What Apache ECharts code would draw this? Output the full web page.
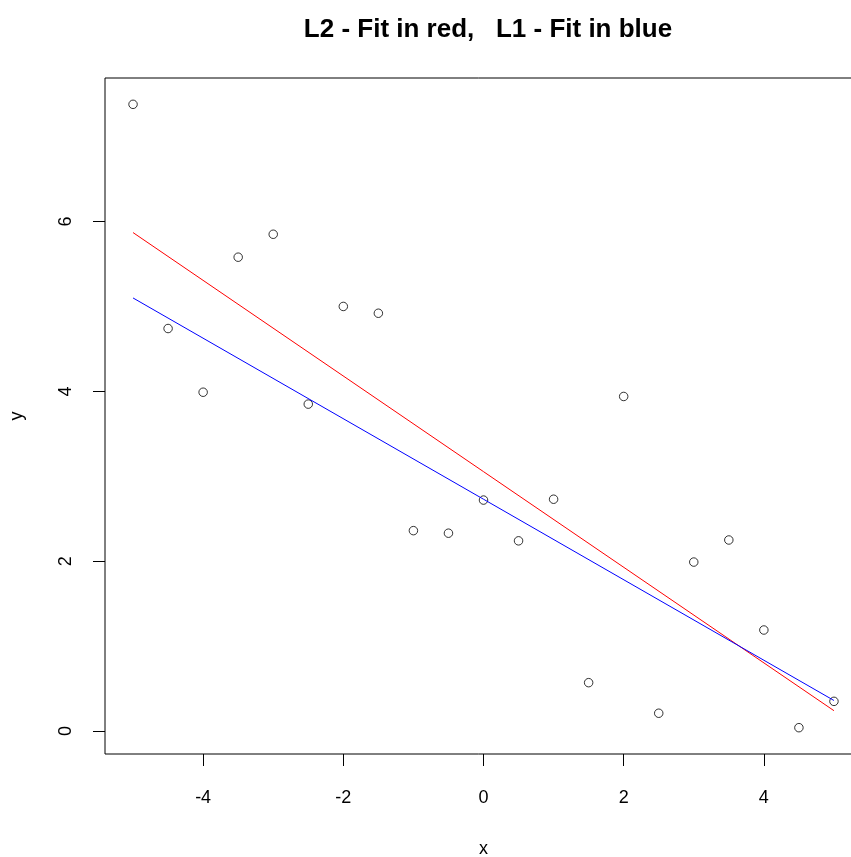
<!DOCTYPE html>
<html>
<head>
<meta charset="utf-8">
<script src="https://cdn.jsdelivr.net/npm/echarts@6/dist/echarts.min.js"></script>
<style>html,body{margin:0;padding:0;background:#fff;}#c{width:851px;height:857px;}</style>
</head>
<body>
<div id="c"></div>
<script>
const xValues = [-5, -4.5, -4, -3.5, -3, -2.5, -2, -1.5, -1, -0.5, 0, 0.5, 1, 1.5, 2, 2.5, 3, 3.5, 4, 4.5, 5];
const yValues = [7.38, 4.74, 3.99, 5.58, 5.85, 3.85, 5.00, 4.92, 2.36, 2.33, 2.72, 2.24, 2.73, 0.57, 3.94, 0.21, 1.99, 2.25, 1.19, 0.04, 0.35];
const l2FitX = [-5, 5];
const l2FitY = [5.87, 0.24];
const l1FitX = [-5, 5];
const l1FitY = [5.10, 0.36];
const xTicks = [-4, -2, 0, 2, 4];
const yTicks = [0, 2, 4, 6];

const font = 'Liberation Sans, Arial, sans-serif';
const chart = echarts.init(document.getElementById('c'), null, {renderer: 'canvas'});
chart.setOption({
  animation: false,
  backgroundColor: '#fff',
  title: {
    text: 'L2 - Fit in red,   L1 - Fit in blue',
    left: 483, top: 12, textAlign: 'center',
    textStyle: {fontFamily: font, fontSize: 26, fontWeight: 'bold', color: '#000'}
  },
  grid: {left: 105, top: 78, width: 757, bottom: 103, outerBoundsMode: 'none', containLabel: false,
         show: true, borderColor: '#000', borderWidth: 1, backgroundColor: 'transparent'},
  xAxis: {
    type: 'value', min: -5.4, max: 5.4,
    name: 'x', nameLocation: 'middle', nameGap: 86,
    nameTextStyle: {fontFamily: font, fontSize: 18, color: '#000'},
    axisLine: {show: false, onZero: false},
    splitLine: {show: false},
    axisTick: {show: true, inside: false, length: 12, customValues: xTicks, lineStyle: {color: '#000', width: 1}},
    axisLabel: {customValues: xTicks, margin: 35, fontFamily: font, fontSize: 18, color: '#000'}
  },
  yAxis: {
    type: 'value', min: -0.27, max: 7.69,
    name: 'y', nameLocation: 'middle', nameGap: 79, nameRotate: 90,
    nameTextStyle: {fontFamily: font, fontSize: 18, color: '#000'},
    axisLine: {show: false, onZero: false},
    splitLine: {show: false},
    axisTick: {show: true, inside: false, length: 12, customValues: yTicks, lineStyle: {color: '#000', width: 1}},
    axisLabel: {customValues: yTicks, rotate: 90, margin: 30, fontFamily: font, fontSize: 18, color: '#000'}
  },
  series: [
    {
      type: 'scatter',
      data: xValues.map((x, i) => [x, yValues[i]]),
      symbol: 'circle', symbolSize: 8.5,
      itemStyle: {color: 'rgba(0,0,0,0)', borderColor: '#000', borderWidth: 1},
      z: 2
    },
    {
      type: 'line',
      data: l2FitX.map((x, i) => [x, l2FitY[i]]),
      showSymbol: false, symbol: 'none',
      lineStyle: {color: '#ff0000', width: 1},
      z: 3
    },
    {
      type: 'line',
      data: l1FitX.map((x, i) => [x, l1FitY[i]]),
      showSymbol: false, symbol: 'none',
      lineStyle: {color: '#0000ff', width: 1},
      z: 3
    }
  ]
});
</script>
</body>
</html>
